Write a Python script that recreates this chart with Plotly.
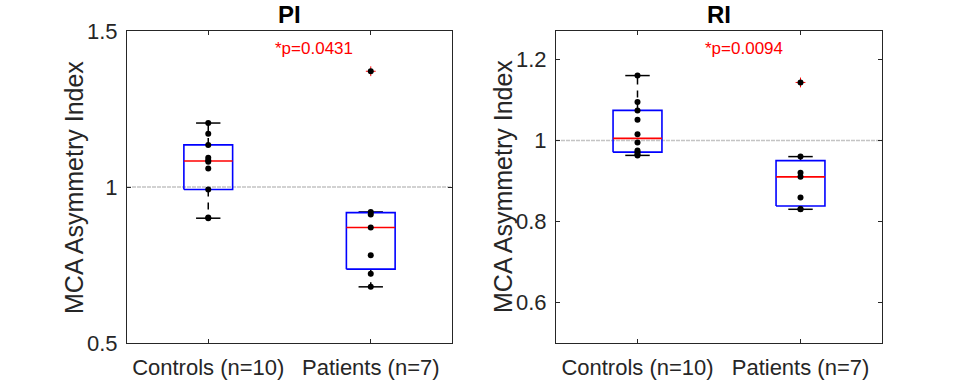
import numpy as np
import plotly.graph_objects as go

# ---------------- data ----------------
groups = ["Controls (n=10)", "Patients (n=7)"]
panel_titles = ["PI", "RI"]
y_label = "MCA Asymmetry Index"
p_texts = ["*p=0.0431", "*p=0.0094"]

pi_controls = [0.900, 0.902, 0.992, 1.059, 1.081, 1.086, 1.094, 1.135, 1.171, 1.205]
pi_patients = [0.680, 0.722, 0.781, 0.870, 0.912, 0.920, 1.371]
ri_controls = [0.963, 0.966, 0.971, 0.975, 0.995, 1.015, 1.051, 1.074, 1.095, 1.160]
ri_patients = [0.830, 0.831, 0.859, 0.910, 0.920, 0.960, 1.143]

pi_ticks = [0.5, 1.0, 1.5]
pi_ticklabels = ["0.5", "1", "1.5"]
ri_ticks = [0.6, 0.8, 1.0, 1.2]
ri_ticklabels = ["0.6", "0.8", "1", "1.2"]
pi_range = [0.5, 1.5]
ri_range = [0.5, 1.27]
ref_value = 1.0
p_pos = [(1.4, 1.445), (1.4, 1.226)]

panels = [(pi_controls, pi_patients), (ri_controls, ri_patients)]

# ---------------- style ----------------
FONT = "Liberation Sans, Arial, Helvetica, sans-serif"
TXT = "#262626"
BOXW = 0.15
CAPW = 0.075
W, H = 974, 385

def px_x(p):
    return p / W

def px_y(p):
    return 1 - p / H

fig = go.Figure()

def stats(vals):
    v = np.asarray(vals, float)
    q1, med, q3 = np.percentile(v, [25, 50, 75], method="hazen")
    iqr = q3 - q1
    lo_f, hi_f = q1 - 1.5 * iqr, q3 + 1.5 * iqr
    inside = v[(v >= lo_f) & (v <= hi_f)]
    out = v[(v < lo_f) | (v > hi_f)]
    return q1, med, q3, inside.min(), inside.max(), out

for pi_, (ctrl, pat) in enumerate(panels):
    xa = "x" if pi_ == 0 else "x2"
    ya = "y" if pi_ == 0 else "y2"
    for gi, vals in enumerate([ctrl, pat]):
        c = gi + 1
        q1, med, q3, wlo, whi, out = stats(vals)
        for a, b in [(q3, whi), (q1, wlo)]:
            fig.add_trace(go.Scatter(x=[c, c], y=[a, b], mode="lines", xaxis=xa, yaxis=ya,
                                     line=dict(color="black", width=1.5, dash="7px,6px"),
                                     showlegend=False, hoverinfo="skip"))
        for w in [whi, wlo]:
            fig.add_trace(go.Scatter(x=[c - CAPW, c + CAPW], y=[w, w], mode="lines", xaxis=xa, yaxis=ya,
                                     line=dict(color="black", width=1.5),
                                     showlegend=False, hoverinfo="skip"))
        fig.add_trace(go.Scatter(x=[c - BOXW, c + BOXW, c + BOXW, c - BOXW, c - BOXW],
                                 y=[q1, q1, q3, q3, q1], mode="lines", xaxis=xa, yaxis=ya,
                                 line=dict(color="#0000FF", width=1.6),
                                 showlegend=False, hoverinfo="skip"))
        fig.add_trace(go.Scatter(x=[c - BOXW, c + BOXW], y=[med, med], mode="lines", xaxis=xa, yaxis=ya,
                                 line=dict(color="#FF0000", width=1.6),
                                 showlegend=False, hoverinfo="skip"))
        if len(out):
            fig.add_trace(go.Scatter(x=[c] * len(out), y=list(out), mode="markers", xaxis=xa, yaxis=ya,
                                     marker=dict(symbol="cross-thin", size=7,
                                                 line=dict(color="#FF0000", width=1)),
                                     showlegend=False, hoverinfo="skip"))
        fig.add_trace(go.Scatter(x=[c] * len(vals), y=vals, mode="markers", xaxis=xa, yaxis=ya,
                                 marker=dict(color="black", size=6),
                                 showlegend=False, hoverinfo="skip"))

for ax in ["x", "x2"]:
    yref = "y" if ax == "x" else "y2"
    fig.add_shape(type="line", xref=f"{ax} domain", yref=yref, x0=0, x1=1, y0=ref_value, y1=ref_value,
                  line=dict(color="#c4c4c4", width=1.5, dash="4px,1px"), layer="below")

axis_common = dict(showline=True, linecolor=TXT, linewidth=1, mirror="ticks", ticks="inside",
                   ticklen=4, tickcolor=TXT, showgrid=False, zeroline=False, automargin=False,
                   tickfont=dict(family=FONT, size=22, color=TXT))

xd1 = [px_x(127), px_x(452)]
xd2 = [px_x(556), px_x(882)]
yd = [px_y(343), px_y(31)]

fig.update_layout(
    width=W, height=H,
    margin=dict(l=0, r=0, t=0, b=0, pad=0),
    paper_bgcolor="white", plot_bgcolor="white",
    showlegend=False,
    hovermode=False,
    xaxis=dict(domain=xd1, range=[0.5, 2.5], tickvals=[1, 2], ticktext=groups, anchor="y",
               ticklabelstandoff=5, **axis_common),
    yaxis=dict(domain=yd, range=pi_range, tickvals=pi_ticks, ticktext=pi_ticklabels, anchor="x",
               ticklabelstandoff=4, **axis_common),
    xaxis2=dict(domain=xd2, range=[0.5, 2.5], tickvals=[1, 2], ticktext=groups, anchor="y2",
                ticklabelstandoff=5, **axis_common),
    yaxis2=dict(domain=yd, range=ri_range, tickvals=ri_ticks, ticktext=ri_ticklabels, anchor="x2",
                ticklabelstandoff=4, **axis_common),
)

for i, (xd, title) in enumerate([(xd1, panel_titles[0]), (xd2, panel_titles[1])]):
    fig.add_annotation(text=f"<b>{title}</b>", xref="paper", yref="paper",
                       x=(xd[0] + xd[1]) / 2, y=px_y(14), xanchor="center", yanchor="middle",
                       showarrow=False, font=dict(family=FONT, size=24, color="black"))
    fig.add_annotation(text=y_label, xref="paper", yref="paper", textangle=-90,
                       x=xd[0] - 53 / W, y=(yd[0] + yd[1]) / 2, xanchor="center", yanchor="middle",
                       showarrow=False, font=dict(family=FONT, size=25, color=TXT))
    xa = "x" if i == 0 else "x2"
    ya = "y" if i == 0 else "y2"
    fig.add_annotation(text=p_texts[i], xref=xa, yref=ya, x=p_pos[i][0], y=p_pos[i][1],
                       xanchor="left", yanchor="middle", showarrow=False,
                       font=dict(family=FONT, size=17, color="#FF0000"))

fig.write_html("out.html", config={"displayModeBar": False, "staticPlot": True},
               post_script="document.body.style.margin='0px';")
